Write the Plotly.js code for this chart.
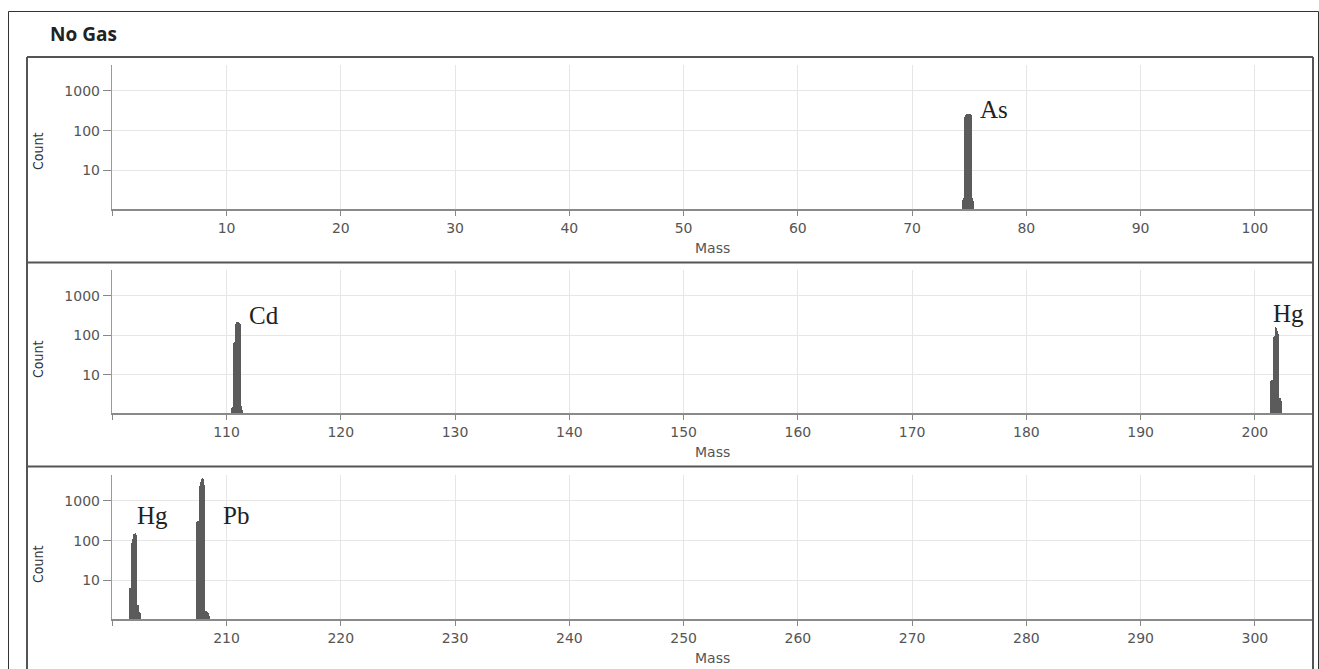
<!DOCTYPE html>
<html>
<head>
<meta charset="utf-8">
<script src="https://cdn.plot.ly/plotly-3.0.1.min.js"></script>
<style>html,body{margin:0;padding:0;background:#fff;}#chart{width:1319px;height:669px;}</style>
</head>
<body>
<div id="chart"></div>
<script>
// ---- data ----
const asMass = [74.4, 74.5, 74.6, 74.7, 74.8, 74.9, 75.0, 75.1, 75.2, 75.3, 75.4];
const asCount = [1.8, 2, 220, 245, 255, 262, 265, 258, 248, 2, 1.7];

const cdMass = [110.4, 110.5, 110.6, 110.7, 110.8, 110.9, 111.0, 111.1, 111.2, 111.3, 111.4];
const cdCount = [1.4, 1.5, 62, 68, 190, 210, 215, 205, 195, 1.6, 1.3];

const hgMassA = [201.4, 201.5, 201.6, 201.7, 201.8, 201.9, 202.0, 202.1, 202.2, 202.3];
const hgCountA = [7, 7.5, 88, 95, 157, 150, 125, 105, 2.6, 2.2];

const hgMassB = [201.5, 201.6, 201.7, 201.8, 201.9, 202.0, 202.1, 202.2, 202.3, 202.4, 202.5];
const hgCountB = [6.3, 6.3, 85, 110, 150, 160, 140, 2.4, 2.4, 1.6, 1.5];

const pbMass = [207.4, 207.5, 207.6, 207.7, 207.8, 207.9, 208.0, 208.1, 208.2, 208.3, 208.4, 208.5];
const pbCount = [300, 320, 2300, 3000, 3600, 3800, 3500, 2500, 1.7, 1.6, 1.5, 1.3];

const xRanges = [[0, 105], [100, 205], [200, 305]];
const xTickVals = [
  [0, 10, 20, 30, 40, 50, 60, 70, 80, 90, 100],
  [100, 110, 120, 130, 140, 150, 160, 170, 180, 190, 200],
  [200, 210, 220, 230, 240, 250, 260, 270, 280, 290, 300]
];
const yTickVals = [10, 100, 1000];
const yTickText = ['10', '100', '1000'];

const peakLabels = [
  {text: 'As', axis: 1, x: 75.75, y: 2.54},
  {text: 'Cd', axis: 2, x: 111.75, y: 2.49},
  {text: 'Hg', axis: 2, x: 201.37, y: 2.56},
  {text: 'Hg', axis: 3, x: 201.95, y: 2.62},
  {text: 'Pb', axis: 3, x: 209.55, y: 2.64}
];

// ---- layout helpers ----
const W = 1319, H = 669;
const py = p => 1 - p / H;
const px = p => p / W;
const plotLeft = 112.3, plotRight = 1312;
const panels = [ {top: 65, bottom: 209, box: 57, mass: 248, count: 152},
                 {top: 270, bottom: 413, box: 262.5, mass: 452, count: 360},
                 {top: 475, bottom: 619, box: 466.5, mass: 658, count: 565} ];

const barColor = '#5b5b5b';
function barTrace(x, y, n) {
  return {type: 'bar', x: x, y: y, width: 0.1, marker: {color: barColor, line: {width: 0}},
          xaxis: n === 1 ? 'x' : 'x' + n, yaxis: n === 1 ? 'y' : 'y' + n, hoverinfo: 'skip'};
}
const data = [
  barTrace(asMass, asCount, 1),
  barTrace(cdMass, cdCount, 2),
  barTrace(hgMassA, hgCountA, 2),
  barTrace(hgMassB, hgCountB, 3),
  barTrace(pbMass, pbCount, 3)
];

const tickFont = {family: 'DejaVu Sans, Verdana, sans-serif', size: 14, color: '#555'};
const layout = {
  width: W, height: H, margin: {l: 0, r: 0, t: 0, b: 0},
  paper_bgcolor: '#fff', plot_bgcolor: '#fff',
  showlegend: false, bargap: 0, barmode: 'overlay',
  annotations: [], shapes: []
};

panels.forEach((p, i) => {
  const n = i + 1;
  const xk = n === 1 ? 'xaxis' : 'xaxis' + n;
  const yk = n === 1 ? 'yaxis' : 'yaxis' + n;
  const ya = n === 1 ? 'y' : 'y' + n;
  const xa = n === 1 ? 'x' : 'x' + n;
  layout[xk] = {
    domain: [px(plotLeft), px(plotRight)], anchor: ya, range: xRanges[i],
    tickmode: 'array', tickvals: xTickVals[i],
    ticktext: xTickVals[i].map((v, k) => k === 0 ? '' : String(v)),
    ticks: 'outside', ticklen: 5, tickcolor: '#888', tickwidth: 1,
    showline: true, linecolor: '#8a8a8a', linewidth: 2,
    showgrid: true, gridcolor: '#e6e6e6', gridwidth: 1, zeroline: false,
    tickfont: tickFont
  };
  layout[yk] = {
    domain: [py(p.bottom), py(p.top)], anchor: xa, type: 'log', range: [0.03, 3.65],
    tickmode: 'array', tickvals: yTickVals, ticktext: yTickText,
    ticks: 'outside', ticklen: 8, tickcolor: '#888', tickwidth: 1,
    showline: true, linecolor: '#9a9a9a', linewidth: 1.5,
    showgrid: true, gridcolor: '#e6e6e6', gridwidth: 1, zeroline: false,
    tickfont: tickFont
  };
  layout.annotations.push({
    xref: 'paper', yref: 'paper', x: px(712), y: py(p.mass), text: 'Mass', showarrow: false,
    xanchor: 'center', yanchor: 'middle', font: {family: 'DejaVu Sans, Verdana, sans-serif', size: 14, color: '#555'}
  });
  layout.annotations.push({
    xref: 'paper', yref: 'paper', x: px(38), y: py(p.count), text: 'Count', showarrow: false, textangle: -90,
    xanchor: 'center', yanchor: 'middle', font: {family: 'Liberation Sans Narrow, DejaVu Sans Condensed, sans-serif', size: 14, color: '#333'}
  });
  layout.shapes.push({type: 'line', xref: 'paper', yref: 'paper', x0: px(27), x1: px(1313), y0: py(p.box), y1: py(p.box),
    line: {color: '#555', width: 2}});
});

// panel box sides and outer border
layout.shapes.push({type: 'line', xref: 'paper', yref: 'paper', x0: px(27), x1: px(27), y0: py(700), y1: py(57), line: {color: '#555', width: 2}});
layout.shapes.push({type: 'line', xref: 'paper', yref: 'paper', x0: px(1313), x1: px(1313), y0: py(700), y1: py(57), line: {color: '#555', width: 2}});
layout.shapes.push({type: 'rect', xref: 'paper', yref: 'paper', x0: px(8.5), x1: px(1318.5), y0: py(700), y1: py(11.5), line: {color: '#333', width: 1}});

peakLabels.forEach(l => {
  layout.annotations.push({
    xref: l.axis === 1 ? 'x' : 'x' + l.axis, yref: l.axis === 1 ? 'y' : 'y' + l.axis,
    x: l.x, y: l.y, text: l.text, showarrow: false, xanchor: 'left', yanchor: 'middle',
    font: {family: 'Liberation Serif, Times New Roman, serif', size: 25, color: '#222'}
  });
});

layout.annotations.push({
  xref: 'paper', yref: 'paper', x: px(48), y: py(34), text: '<b>No Gas</b>', showarrow: false,
  xanchor: 'left', yanchor: 'middle', font: {family: 'Open Sans, DejaVu Sans, sans-serif', size: 19, color: '#222'}
});

Plotly.newPlot('chart', data, layout, {staticPlot: true, displayModeBar: false});
</script>
</body>
</html>
